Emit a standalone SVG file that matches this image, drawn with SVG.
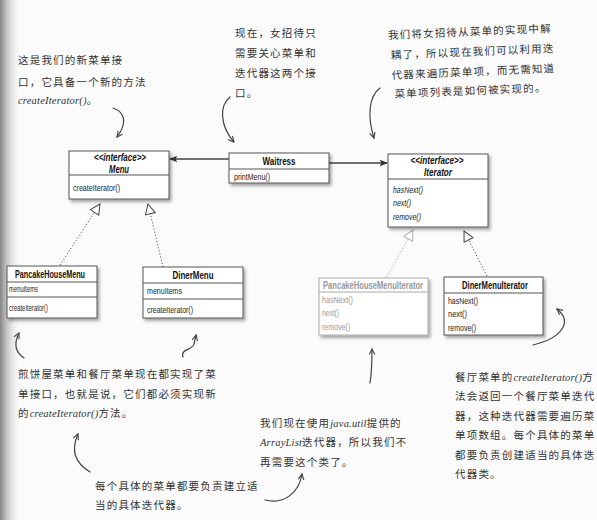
<svg xmlns="http://www.w3.org/2000/svg" width="597" height="520" viewBox="0 0 597 520">
<defs>
<style>
.box{fill:#fff;stroke:#555;stroke-width:1;filter:url(#sh)}
.gbox{fill:#fff;stroke:#aaa;stroke-width:1;filter:url(#sh)}
.div{stroke:#555;stroke-width:1}
.gdiv{stroke:#aaa;stroke-width:1}
.t{font-family:"Liberation Sans",Arial,sans-serif;font-size:9.5px;fill:#222}
.tb{font-family:"Liberation Sans",Arial,sans-serif;font-size:10.5px;font-weight:bold;fill:#111;text-anchor:middle}
.ti{font-family:"Liberation Sans",Arial,sans-serif;font-size:10px;font-weight:bold;font-style:italic;fill:#111;text-anchor:middle}
.it{font-style:italic}
.g{fill:#999}
.gt{fill:#999;font-weight:bold}
.note{font-family:"Noto Sans CJK SC","Noto Sans",sans-serif;font-size:10.5px;fill:#333;letter-spacing:1.2px}
.lat{font-family:"Liberation Serif",serif;font-style:italic;letter-spacing:0.2px}
.hand{fill:none;stroke:#444;stroke-width:1.2;stroke-linecap:round;marker-end:url(#open)}
.solid{fill:none;stroke:#444;stroke-width:1.3;marker-end:url(#filled)}
.dot{fill:none;stroke:#555;stroke-width:1;stroke-dasharray:1.2 2;marker-end:url(#tri)}
.gdot{fill:none;stroke:#aaa;stroke-width:1;stroke-dasharray:1.2 2;marker-end:url(#gtri)}
</style>
<filter id="sh" x="-10%" y="-10%" width="130%" height="140%">
<feDropShadow dx="2" dy="2.5" stdDeviation="1.5" flood-color="#000" flood-opacity="0.35"/>
</filter>
<linearGradient id="edge" x1="0" y1="0" x2="1" y2="0">
<stop offset="0" stop-color="#777" stop-opacity="0.9"/>
<stop offset="1" stop-color="#fff" stop-opacity="0"/>
</linearGradient>
<marker id="open" viewBox="0 0 10 10" refX="9" refY="5" markerWidth="7" markerHeight="7" orient="auto" markerUnits="userSpaceOnUse">
<path d="M1,1 L9,5 L1,9" fill="none" stroke="#444" stroke-width="1.6"/>
</marker>
<marker id="filled" viewBox="0 0 10 10" refX="9" refY="5" markerWidth="9" markerHeight="8" orient="auto" markerUnits="userSpaceOnUse">
<path d="M0,1 L10,5 L0,9 L2,5 Z" fill="#333"/>
</marker>
<marker id="tri" viewBox="0 0 12 12" refX="11" refY="6" markerWidth="12" markerHeight="12" orient="auto" markerUnits="userSpaceOnUse">
<path d="M1,1 L11,6 L1,11 Z" fill="#fff" stroke="#444" stroke-width="1"/>
</marker>
<marker id="gtri" viewBox="0 0 12 12" refX="11" refY="6" markerWidth="12" markerHeight="12" orient="auto" markerUnits="userSpaceOnUse">
<path d="M1,1 L11,6 L1,11 Z" fill="#fff" stroke="#aaa" stroke-width="1"/>
</marker>
</defs>
<rect width="597" height="520" fill="#fbfbfb"/>
<rect width="22" height="520" fill="url(#edge)"/>

<g id="connectors">
<path class="solid" d="M229,159 L170,159"/>
<path class="solid" d="M329,163 L387,163"/>
<path class="dot" d="M60,265 L100,204"/>
<path class="dot" d="M163,267 L148,204"/>
<path class="gdot" d="M387,277 L413,230"/>
<path class="dot" d="M487,276 L464,231"/>
</g>

<g id="Menu">
<rect class="box" x="69" y="151" width="100" height="48"/>
<line class="div" x1="69" y1="175" x2="169" y2="175"/>
<text class="ti" x="120" y="161" textLength="52" lengthAdjust="spacingAndGlyphs">&lt;&lt;interface&gt;&gt;</text>
<text class="ti" x="119" y="173" textLength="20" lengthAdjust="spacingAndGlyphs">Menu</text>
<text class="t" x="73" y="191" textLength="47" lengthAdjust="spacingAndGlyphs">createIterator()</text>
</g>

<g id="Waitress">
<rect class="box" x="229" y="153" width="100" height="30"/>
<line class="div" x1="229" y1="169" x2="329" y2="169"/>
<text class="tb" x="279" y="165" textLength="33" lengthAdjust="spacingAndGlyphs">Waitress</text>
<text class="t" x="234" y="180" textLength="36" lengthAdjust="spacingAndGlyphs">printMenu()</text>
</g>

<g id="Iterator">
<rect class="box" x="388" y="154" width="100" height="73"/>
<line class="div" x1="388" y1="179" x2="488" y2="179"/>
<text class="ti" x="437" y="164" textLength="53" lengthAdjust="spacingAndGlyphs">&lt;&lt;interface&gt;&gt;</text>
<text class="ti" x="438" y="176" textLength="28" lengthAdjust="spacingAndGlyphs">Iterator</text>
<text class="t it" x="393" y="193" textLength="30" lengthAdjust="spacingAndGlyphs">hasNext()</text>
<text class="t it" x="393" y="206" textLength="18" lengthAdjust="spacingAndGlyphs">next()</text>
<text class="t it" x="393" y="220" textLength="28" lengthAdjust="spacingAndGlyphs">remove()</text>
</g>

<g id="PancakeHouseMenu">
<rect class="box" x="7" y="266" width="90" height="52"/>
<line class="div" x1="7" y1="282" x2="97" y2="282"/>
<line class="div" x1="7" y1="297" x2="97" y2="297"/>
<text class="tb" x="50" y="278" textLength="70" lengthAdjust="spacingAndGlyphs">PancakeHouseMenu</text>
<text class="t" x="9" y="292" textLength="29" lengthAdjust="spacingAndGlyphs">menuItems</text>
<text class="t" x="9" y="311" textLength="39" lengthAdjust="spacingAndGlyphs">createIterator()</text>
</g>

<g id="DinerMenu">
<rect class="box" x="143" y="267" width="100" height="51"/>
<line class="div" x1="143" y1="283" x2="243" y2="283"/>
<line class="div" x1="143" y1="299" x2="243" y2="299"/>
<text class="tb" x="193" y="279" textLength="41" lengthAdjust="spacingAndGlyphs">DinerMenu</text>
<text class="t" x="147" y="294" textLength="35" lengthAdjust="spacingAndGlyphs">menuItems</text>
<text class="t" x="147" y="313" textLength="46" lengthAdjust="spacingAndGlyphs">createIterator()</text>
</g>

<g id="PancakeHouseMenuIterator">
<rect class="gbox" x="319" y="278" width="109" height="57"/>
<line class="gdiv" x1="319" y1="292" x2="428" y2="292"/>
<text class="tb gt" x="373" y="289" textLength="100" lengthAdjust="spacingAndGlyphs">PancakeHouseMenuIterator</text>
<text class="t g" x="322" y="303" textLength="31" lengthAdjust="spacingAndGlyphs">hasNext()</text>
<text class="t g" x="322" y="316" textLength="17" lengthAdjust="spacingAndGlyphs">next()</text>
<text class="t g" x="322" y="330" textLength="28" lengthAdjust="spacingAndGlyphs">remove()</text>
</g>

<g id="DinerMenuIterator">
<rect class="box" x="444" y="277" width="99" height="58"/>
<line class="div" x1="444" y1="293" x2="543" y2="293"/>
<text class="tb" x="495" y="289" textLength="66" lengthAdjust="spacingAndGlyphs">DinerMenuIterator</text>
<text class="t" x="448" y="304" textLength="30" lengthAdjust="spacingAndGlyphs">hasNext()</text>
<text class="t" x="448" y="317" textLength="19" lengthAdjust="spacingAndGlyphs">next()</text>
<text class="t" x="448" y="331" textLength="28" lengthAdjust="spacingAndGlyphs">remove()</text>
</g>

<g id="annotations">
<text class="note" x="18" y="64">这是我们的新菜单接</text>
<text class="note" x="18" y="86">口，它具备一个新的方法</text>
<text class="note" x="18" y="104"><tspan class="lat">createIterator()</tspan>。</text>

<text class="note" x="235" y="37" letter-spacing="1.4">现在，女招待只</text>
<text class="note" x="235" y="57" letter-spacing="1.4">需要关心菜单和</text>
<text class="note" x="235" y="77" letter-spacing="1.4">迭代器这两个接</text>
<text class="note" x="235" y="97" letter-spacing="1.4">口。</text>

<g transform="rotate(-2.4 388 35)">
<text class="note" x="388" y="39" letter-spacing="1.6">我们将女招待从菜单的实现中解</text>
<text class="note" x="390" y="59" letter-spacing="1.6">耦了，所以现在我们可以利用迭</text>
<text class="note" x="390" y="79" letter-spacing="1.6">代器来遍历菜单项，而无需知道</text>
<text class="note" x="392" y="98" letter-spacing="1.6">菜单项列表是如何被实现的。</text>
</g>

<text class="note" x="18" y="378" letter-spacing="1.7">煎饼屋菜单和餐厅菜单现在都实现了菜</text>
<text class="note" x="18" y="398" letter-spacing="1.7">单接口，也就是说，它们都必须实现新</text>
<text class="note" x="18" y="417">的<tspan class="lat">createIterator()</tspan>方法。</text>

<text class="note" x="95" y="490">每个具体的菜单都要负责建立适</text>
<text class="note" x="95" y="509">当的具体迭代器。</text>

<text class="note" x="260" y="427">我们现在使用<tspan class="lat">java.util</tspan>提供的</text>
<text class="note" x="260" y="446"><tspan class="lat">ArrayList</tspan>迭代器，所以我们不</text>
<text class="note" x="260" y="466">再需要这个类了。</text>

<text class="note" x="455" y="381">餐厅菜单的<tspan class="lat">createIterator()</tspan>方</text>
<text class="note" x="455" y="400">法会返回一个餐厅菜单迭代</text>
<text class="note" x="455" y="420">器，这种迭代器需要遍历菜</text>
<text class="note" x="455" y="439">单项数组。每个具体的菜单</text>
<text class="note" x="455" y="459">都要负责创建适当的具体迭</text>
<text class="note" x="455" y="478">代器类。</text>
</g>

<g id="hand-arrows">
<path class="hand" d="M113,108 C127,113 126,125 117,137"/>
<path class="hand" d="M230,97 C219,106 220,126 234,142"/>
<path class="hand" d="M380,88 C369,96 367,116 374,138"/>
<path class="hand" d="M24,358 C15,352 14,343 19,333"/>
<path class="hand" d="M183,357 C180,349 193,350 194,344 L196,335"/>
<path class="hand" d="M90,472 C74,462 71,450 78,434"/>
<path class="hand" d="M265,500 C285,505 299,492 302,474"/>
<path class="hand" d="M370,383 C372,371 372,361 372,349"/>
<path class="hand" d="M533,345 C562,338 573,322 557,309"/>
</g>
</svg>
